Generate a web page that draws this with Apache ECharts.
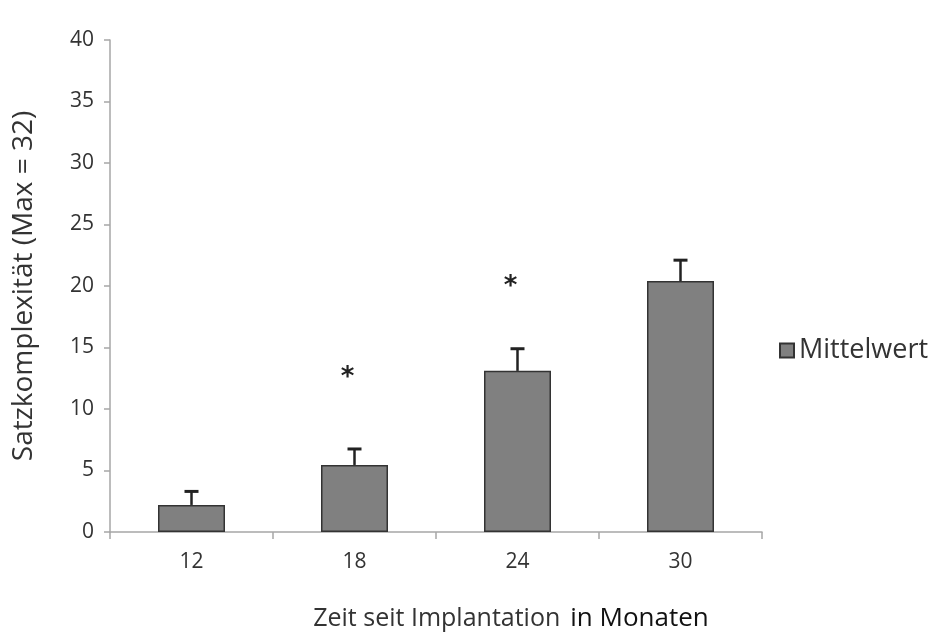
<!DOCTYPE html>
<html>
<head>
<meta charset="utf-8">
<script src="https://cdn.jsdelivr.net/npm/echarts@6/dist/echarts.min.js"></script>
<style>html,body{margin:0;padding:0;background:#fff}#c{width:936px;height:637px}</style>
</head>
<body>
<div id="c"></div>
<script>
const categories = ['12', '18', '24', '30'];
const meanValues = [2.2, 5.45, 13.1, 20.4];
const errorValues = [1.1, 1.3, 1.8, 1.7];
const starValues = [null, 12.8, 20.2, null];
const yTicks = { min: 0, max: 40, interval: 5 };
const seriesName = 'Mittelwert';
const yName = 'Satzkomplexität (Max = 32)';
const xNameA = 'Zeit seit Implantation';
const xNameB = 'in Monaten';

const chart = echarts.init(document.getElementById('c'), null, { renderer: 'canvas' });
const font = 'Open Sans';
const option = {
  backgroundColor: '#fff',
  animation: false,
  grid: { left: 110, right: 174, top: 40, bottom: 105 },
  legend: {
    data: [{ name: seriesName, icon: 'rect' }],
    orient: 'vertical',
    left: 774, top: 332,
    itemWidth: 14, itemHeight: 14, itemGap: 5,
    textStyle: { fontFamily: font, fontSize: 27, color: '#333' },
    selectedMode: false
  },
  xAxis: {
    type: 'category',
    data: categories,
    name: '{a|' + xNameA + '}{s| }{b|' + xNameB + '}',
    nameLocation: 'middle',
    nameGap: 74,
    nameTextStyle: {
      fontFamily: font, color: '#333',
      padding: [0, 0, 0, 150],
      rich: {
        a: { fontFamily: font, fontSize: 25, color: '#333' },
        s: { fontFamily: font, fontSize: 25, width: 10 },
        b: { fontFamily: font, fontSize: 26, color: '#111' }
      }
    },
    axisLine: { lineStyle: { color: '#a6a6a6', width: 1.5 } },
    axisTick: { show: true, alignWithLabel: false, length: 7, lineStyle: { color: '#a6a6a6', width: 1.5 } },
    axisLabel: { fontFamily: font, fontSize: 21, color: '#333', margin: 20 }
  },
  yAxis: {
    type: 'value',
    min: yTicks.min, max: yTicks.max, interval: yTicks.interval,
    name: yName,
    nameLocation: 'middle',
    nameGap: 72,
    nameTextStyle: { fontFamily: font, fontSize: 28, color: '#333' },
    axisLine: { show: true, lineStyle: { color: '#a6a6a6', width: 1.5 } },
    axisTick: { show: true, length: 6, lineStyle: { color: '#a6a6a6', width: 1.5 } },
    axisLabel: { fontFamily: font, fontSize: 21, color: '#333', margin: 16 },
    splitLine: { show: false }
  },
  series: [
    {
      name: seriesName,
      type: 'bar',
      data: meanValues,
      barWidth: 67,
      itemStyle: { color: '#808080', borderColor: '#333', borderWidth: 1.5 },
      z: 2
    },
    {
      type: 'custom',
      name: 'err',
      data: meanValues.map((v, i) => [i, v, v + errorValues[i]]),
      renderItem: function (params, api) {
        const base = api.coord([api.value(0), api.value(1)]);
        const top = api.coord([api.value(0), api.value(2)]);
        const hw = 7;
        return {
          type: 'group',
          children: [
            { type: 'line', shape: { x1: base[0], y1: base[1], x2: top[0], y2: top[1] }, style: { stroke: '#222', lineWidth: 2.5 } },
            { type: 'line', shape: { x1: top[0] - hw, y1: top[1], x2: top[0] + hw, y2: top[1] }, style: { stroke: '#222', lineWidth: 3 } }
          ]
        };
      },
      z: 3,
      silent: true
    },
    {
      type: 'custom',
      name: 'sig',
      data: starValues.map((v, i) => v == null ? null : [i, v]).filter(d => d),
      renderItem: function (params, api) {
        const p = api.coord([api.value(0), api.value(1)]);
        return {
          type: 'text',
          x: p[0] - 7, y: p[1] + 4,
          style: { text: '*', fontFamily: 'DejaVu Sans', fontWeight: 'bold', fontSize: 26, fill: '#222', align: 'center', verticalAlign: 'middle' }
        };
      },
      z: 4,
      silent: true
    }
  ]
};
chart.setOption(option);
</script>
</body>
</html>
